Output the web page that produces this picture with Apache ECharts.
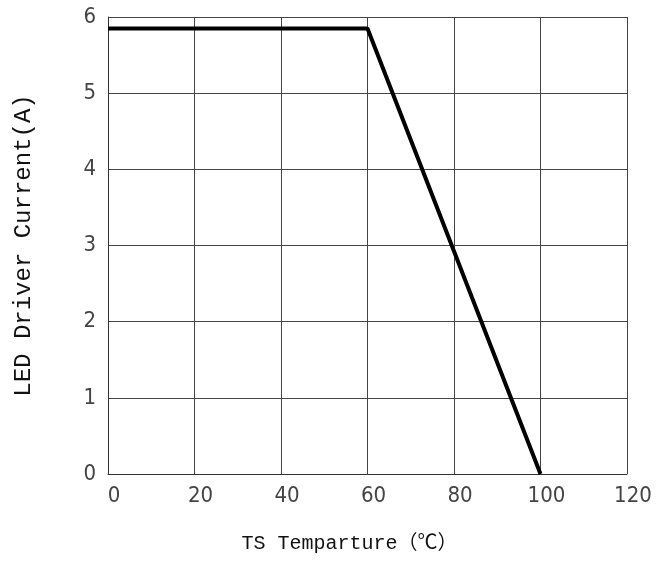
<!DOCTYPE html>
<html><head><meta charset="utf-8">
<script src="https://cdn.jsdelivr.net/npm/echarts@6/dist/echarts.min.js"></script>
<style>html,body{margin:0;padding:0;background:#fff}#c{width:666px;height:562px}</style>
</head><body><div id="c"></div>
<script>
const temps = [0, 60, 100];
const currents = [5.85, 5.85, 0];
const xTitle = 'TS Temparture（℃）';
const yTitle = 'LED Driver Current(A)';

const chart = echarts.init(document.getElementById('c'), null, {renderer: 'canvas'});
chart.setOption({
  animation: false,
  backgroundColor: '#fff',
  grid: {left: 108, top: 17, right: 39, bottom: 88, containLabel: false, outerBoundsMode: 'none'},
  xAxis: {
    type: 'value', min: 0, max: 120, interval: 20,
    name: xTitle, nameLocation: 'middle', nameGap: 60,
    nameTextStyle: {fontFamily: 'Liberation Mono, Noto Sans CJK SC', fontSize: 20, color: '#111', padding: [0, 36, 0, 0]},
    axisLine: {show: true, lineStyle: {color: '#333', width: 1}},
    axisTick: {show: false},
    splitLine: {show: true, lineStyle: {color: '#444', width: 1}},
    axisLabel: {fontFamily: 'DejaVu Sans Condensed', fontSize: 22, color: '#444', margin: 11, padding: [0, 0, 0, 12]}
  },
  yAxis: {
    type: 'value', min: 0, max: 6, interval: 1,
    name: yTitle, nameLocation: 'middle', nameGap: 72, nameRotate: 90,
    nameTextStyle: {fontFamily: 'Liberation Mono', fontSize: 24, color: '#111'},
    axisLine: {show: true, lineStyle: {color: '#333', width: 1}},
    axisTick: {show: false},
    splitLine: {show: true, lineStyle: {color: '#444', width: 1}},
    axisLabel: {fontFamily: 'DejaVu Sans Condensed', fontSize: 22, color: '#444', margin: 12}
  },
  series: [{
    type: 'line',
    data: temps.map((t, i) => [t, currents[i]]),
    symbol: 'none',
    lineStyle: {color: '#000', width: 4},
    silent: true
  }]
});
</script></body></html>
